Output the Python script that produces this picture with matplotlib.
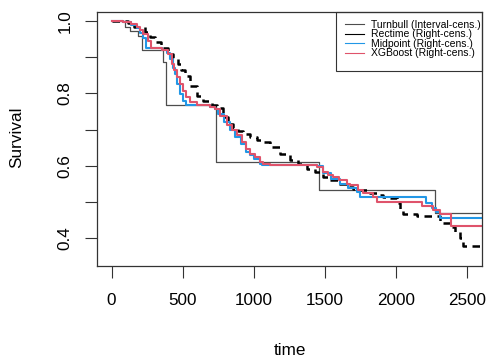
import numpy as np
import matplotlib
matplotlib.use("Agg")
import matplotlib.pyplot as plt
from matplotlib.lines import Line2D
from matplotlib.patches import Rectangle

plt.rcParams['font.family'] = ['Liberation Sans', 'DejaVu Sans']

# Turnbull NPMLE (interval-censored)
t_tb = [0, 98, 129, 185, 211, 363, 380, 733, 1458, 2274]
s_tb = [1.0, 0.984, 0.973, 0.960, 0.921, 0.886, 0.769, 0.610, 0.534, 0.471]

# Rectime KM (right-censored)
t_rt = [0, 117, 160, 234, 270, 304, 350, 398, 430, 468,
        490, 515, 551, 598, 644, 703, 740, 785, 820, 855,
        890, 925, 973, 1020, 1055, 1113, 1184, 1254, 1312, 1371,
        1430, 1488, 1535, 1600, 1653, 1700, 1746, 1800, 1864, 1910,
        1957, 2004, 2030, 2051, 2145, 2309, 2379, 2414, 2449, 2473]
s_rt = [1.0, 0.996, 0.985, 0.969, 0.956, 0.941, 0.925, 0.909, 0.897, 0.882,
        0.866, 0.849, 0.822, 0.794, 0.780, 0.769, 0.760, 0.734, 0.716, 0.704,
        0.696, 0.688, 0.679, 0.672, 0.666, 0.652, 0.634, 0.615, 0.606, 0.592,
        0.583, 0.569, 0.560, 0.551, 0.542, 0.537, 0.532, 0.526, 0.519, 0.514,
        0.510, 0.496, 0.480, 0.468, 0.461, 0.442, 0.431, 0.418, 0.400, 0.378]

# Midpoint imputation KM
t_mp = [0, 82, 140, 176, 200, 222, 240, 352, 390, 410,
        430, 445, 462, 480, 500, 527, 691, 727, 750, 790,
        832, 870, 910, 949, 973, 1000, 1043, 1055, 1442, 1488,
        1540, 1606, 1660, 1723, 1746, 2210, 2250, 2285, 2309]
s_mp = [1.0, 0.998, 0.990, 0.980, 0.968, 0.952, 0.926, 0.920, 0.912, 0.895,
        0.870, 0.854, 0.826, 0.799, 0.780, 0.767, 0.764, 0.757, 0.744, 0.720,
        0.698, 0.680, 0.660, 0.638, 0.629, 0.618, 0.606, 0.601, 0.599, 0.579,
        0.565, 0.551, 0.540, 0.528, 0.513, 0.496, 0.484, 0.472, 0.456]

# XGBoost imputation KM
t_xg = [0, 82, 140, 176, 200, 222, 258, 281, 352, 398,
        422, 440, 457, 480, 504, 527, 551, 598, 691, 727,
        762, 809, 845, 879, 915, 949, 973, 1008, 1043, 1066,
        1113, 1442, 1488, 1520, 1559, 1600, 1653, 1676, 1734, 1769,
        1840, 1864, 2180, 2262, 2309, 2386]
s_xg = [1.0, 0.998, 0.992, 0.984, 0.975, 0.964, 0.946, 0.927, 0.920, 0.909,
        0.882, 0.865, 0.845, 0.826, 0.808, 0.790, 0.776, 0.767, 0.764, 0.758,
        0.739, 0.712, 0.698, 0.684, 0.665, 0.647, 0.634, 0.624, 0.610, 0.606,
        0.601, 0.597, 0.583, 0.576, 0.569, 0.560, 0.551, 0.546, 0.533, 0.525,
        0.514, 0.500, 0.489, 0.478, 0.468, 0.434]

t_end = 2700

labels = ["Turnbull (Interval-cens.)", "Rectime (Right-cens.)",
          "Midpoint (Right-cens.)", "XGBoost (Right-cens.)"]
colors = ["#4d4d4d", "black", "#2297E6", "#DF536B"]


def ext(t, s):
    return list(t) + [t_end], list(s) + [s[-1]]


fig = plt.figure(figsize=(4.91, 3.58), dpi=100)
ax = fig.add_axes([0.1982, 0.2578, 0.7829, 0.7095])

x, y = ext(t_tb, s_tb)
ax.plot(x, y, drawstyle='steps-post', color=colors[0], lw=0.9)
x, y = ext(t_rt, s_rt)
ax.plot(x, y, drawstyle='steps-post', color=colors[1], lw=1.8,
        linestyle=(0, (3, 2.2)))
x, y = ext(t_mp, s_mp)
ax.plot(x, y, drawstyle='steps-post', color=colors[2], lw=1.5)
x, y = ext(t_xg, s_xg)
ax.plot(x, y, drawstyle='steps-post', color=colors[3], lw=1.5)

ax.set_xlim(-100, 2603)
ax.set_ylim(0.324, 1.026)
ax.set_xticks([0, 500, 1000, 1500, 2000, 2500])
ax.set_xticklabels(['0', '500', '1000', '1500', '2000', '2500'], fontsize=12.3)
ax.set_yticks([0.4, 0.5, 0.6, 0.7, 0.8, 0.9, 1.0])
ax.set_yticklabels(['0.4', '', '0.6', '', '0.8', '', '1.0'], fontsize=12.3,
                   rotation=90, va='center')
ax.tick_params(axis='x', length=8.6, width=0.8, pad=11, color='#333333')
ax.tick_params(axis='y', length=8.6, width=0.8, pad=9, color='#333333')
for sp in ax.spines.values():
    sp.set_linewidth(0.9)
    sp.set_color('#333333')

fig.text(289.5 / 491, 3 / 358, "time", fontsize=12.3, ha='center', va='baseline')
fig.text(16.5 / 491, 1 - 137 / 358, "Survival", fontsize=12.3, rotation=90,
         ha='center', va='center')

# legend box
ax.add_patch(Rectangle((0.621, 0.765), 0.379, 0.235, transform=ax.transAxes,
                       fill=False, edgecolor='#333333', lw=0.8, clip_on=False))
handles = [Line2D([], [], color=c, lw=0.8) for c in colors]
ax.legend(handles, labels, loc='upper left', bbox_to_anchor=(0.644, 0.968),
          frameon=False, borderpad=0, fontsize=7.5, handlelength=1.85,
          handletextpad=0.62, labelspacing=-0.05, borderaxespad=0)

fig.savefig("out.png", dpi=100)
